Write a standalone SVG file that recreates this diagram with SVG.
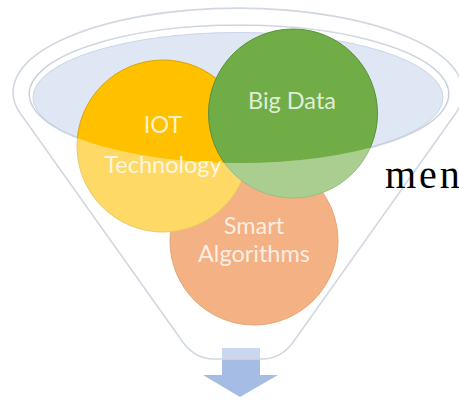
<svg xmlns="http://www.w3.org/2000/svg" width="459" height="400" viewBox="0 0 459 400">
  <style>
    .label { font-family: Lato, "Noto Sans", "Liberation Sans", sans-serif; font-size: 23.5px; fill: #ffffff; fill-opacity: 0.8; text-anchor: middle; }
    .edge { fill: none; stroke: #d2d8e0; stroke-width: 1.6; }
    .rim { fill: none; stroke: #c2cbd9; stroke-width: 1.6; }
  </style>
  <defs>
    <path id="funnel-outline" d="M 20.4,113.5 A 225 84 0 1 1 455.6,113.5 L 292.5,343 Q 280.4,359 262,359 L 214,359 Q 195.6,359 183.5,343 Z"/>
  </defs>

  <rect width="459" height="400" fill="#ffffff"/>

  <!-- output arrow under the funnel spout -->
  <g id="connectors">
    <path d="M 222,348 L 260,348 L 260,375 L 278,375 L 240,397 L 203,375 L 222,375 Z" fill="#a5bde4"/>
  </g>

  <!-- funnel mouth: rim and liquid surface -->
  <g id="funnel-mouth">
    <ellipse cx="238" cy="97.5" rx="205" ry="65" fill="#dfe7f4" stroke="#c9d5ea" stroke-width="1"/>
    <ellipse class="rim" cx="239" cy="94" rx="210" ry="69"/>
  </g>

  <g id="node-algorithms">
    <circle cx="254" cy="241" r="84" fill="#ed7d31" stroke="#d4691f" stroke-width="1"/>
    <text class="label" x="254" y="234">Smart</text>
    <text class="label" x="254" y="262">Algorithms</text>
  </g>

  <g id="node-iot">
    <circle cx="163" cy="146" r="86" fill="#ffc000" stroke="#d9a400" stroke-width="1"/>
    <text class="label" x="163" y="133">IOT</text>
    <text class="label" x="163" y="173">Technology</text>
  </g>

  <g id="node-bigdata">
    <circle cx="293" cy="113.5" r="84.5" fill="#70ad47" stroke="#5b8f38" stroke-width="1"/>
    <text class="label" x="292" y="109">Big Data</text>
  </g>

  <!-- translucent glass of the funnel body, leaving the mouth clear -->
  <g id="funnel-glass">
    <path fill="#ffffff" fill-opacity="0.4" fill-rule="evenodd"
          d="M 20.4,113.5 A 225 84 0 1 1 455.6,113.5 L 292.5,343 Q 280.4,359 262,359 L 214,359 Q 195.6,359 183.5,343 Z
             M 29,94 A 210 69 0 1 0 449,94 A 210 69 0 1 0 29,94 Z"/>
    <use href="#funnel-outline" class="edge"/>
  </g>

  <text x="385" y="188" font-family="'Liberation Serif', 'Times New Roman', serif" font-size="40" letter-spacing="3" fill="#000000">men</text>
</svg>
